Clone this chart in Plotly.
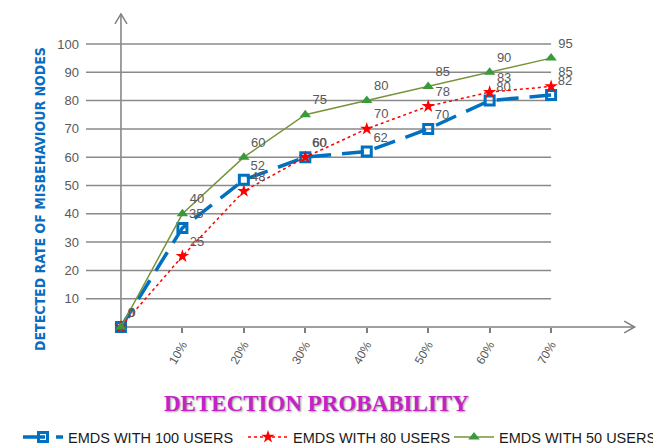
import plotly.graph_objects as go

x_vals = [0, 10, 20, 30, 40, 50, 60, 70]
x_tick_vals = [10, 20, 30, 40, 50, 60, 70]
x_tick_text = ["10%", "20%", "30%", "40%", "50%", "60%", "70%"]
y_tick_vals = [10, 20, 30, 40, 50, 60, 70, 80, 90, 100]

users_100 = [0, 35, 52, 60, 62, 70, 80, 82]
users_80 = [0, 25, 48, 60, 70, 78, 83, 85]
users_50 = [0, 40, 60, 75, 80, 85, 90, 95]

names = ["EMDS WITH 100 USERS", "EMDS WITH 80 USERS", "EMDS WITH 50 USERS"]

# page body has an 8px margin; figure is sized so it fills the 661x448 window
W, H = 653, 440
ML, MR, MT, MB = 78, 21, 2, 121
PW, PH = W - ML - MR, H - MT - MB

X_LEFT, X_RIGHT = -5.69, 84.47
Y_BOT, Y_TOP = 0, 112

def px(v):
    return (v - X_LEFT) / (X_RIGHT - X_LEFT)

def py(v):
    return (v - Y_BOT) / (Y_TOP - Y_BOT)

lbl_font = dict(family="Liberation Sans, Arial, sans-serif", size=13, color="#595959")

fig = go.Figure()
fig.add_trace(go.Scatter(
    x=x_vals, y=users_100, name=names[0], mode="lines+markers+text", legend="legend",
    text=[str(v) for v in users_100], textposition="top right", textfont=lbl_font,
    line=dict(color="#0070c0", width=3.5, dash="22px,11px"),
    marker=dict(symbol="square-open", size=9, color="#0070c0", line=dict(width=3, color="#0070c0")),
    cliponaxis=False))
fig.add_trace(go.Scatter(
    x=x_vals, y=users_80, name=names[1], mode="lines+markers+text", legend="legend2",
    text=[str(v) for v in users_80], textposition="top right", textfont=lbl_font,
    line=dict(color="#ff0000", width=1.5, dash="3px,3px"),
    marker=dict(symbol="star", size=10, color="#ff0000"),
    cliponaxis=False))
fig.add_trace(go.Scatter(
    x=x_vals, y=users_50, name=names[2], mode="lines+markers+text", legend="legend3",
    text=[str(v) for v in users_50], textposition="top right", textfont=lbl_font,
    line=dict(color="#77933c", width=1.5),
    marker=dict(symbol="triangle-up", size=10, color="#3a9a3a"),
    cliponaxis=False))

shapes = []
for v in y_tick_vals:
    shapes.append(dict(type="line", xref="x", yref="y", x0=X_LEFT, x1=70, y0=v, y1=v,
                       line=dict(color="#8a8a8a", width=1.5), layer="below"))
axis_line = dict(color="#7f7f7f", width=1.5)
# y axis with open arrow head
shapes.append(dict(type="line", xref="paper", yref="paper", x0=px(0), x1=px(0), y0=py(0), y1=py(110.6),
                   line=axis_line, layer="below"))
shapes.append(dict(type="path", xref="paper", yref="paper",
                   path=f"M {px(-0.98)} {py(107.1)} L {px(0)} {py(110.6)} L {px(0.98)} {py(107.1)}",
                   line=axis_line, layer="below"))
# x axis with open arrow head
shapes.append(dict(type="line", xref="paper", yref="paper", x0=px(0), x1=px(83.6), y0=py(0), y1=py(0),
                   line=axis_line, layer="below"))
shapes.append(dict(type="path", xref="paper", yref="paper",
                   path=f"M {px(81.9)} {py(2.1)} L {px(83.6)} {py(0)} L {px(81.9)} {py(-2.1)}",
                   line=axis_line, layer="below"))

leg_font = dict(family="Liberation Sans, Arial, sans-serif", size=14.5, color="#1a1a1a")
def leg(xpx):
    return dict(orientation="h", xref="container", yref="container", x=xpx / W, y=1 - 429 / H,
                xanchor="left", yanchor="middle", itemwidth=40, font=leg_font,
                bgcolor="rgba(0,0,0,0)")

fig.update_layout(
    width=W, height=H,
    margin=dict(l=ML, r=MR, t=MT, b=MB, autoexpand=False),
    plot_bgcolor="white", paper_bgcolor="white",
    shapes=shapes,
    showlegend=True,
    legend=leg(10), legend2=leg(235), legend3=leg(441),
    xaxis=dict(range=[X_LEFT, X_RIGHT], showgrid=False, zeroline=False, showline=False,
               automargin=False,
               tickvals=x_tick_vals, ticktext=x_tick_text, tickangle=-60,
               ticks="outside", ticklen=5, tickcolor="#7f7f7f", tickwidth=1.5,
               tickfont=dict(family="Liberation Sans, Arial, sans-serif", size=12, color="#595959")),
    yaxis=dict(range=[Y_BOT, Y_TOP], showgrid=False, zeroline=False, showline=False,
               automargin=False,
               tickvals=y_tick_vals, ticks="", ticklabelstandoff=6,
               tickfont=dict(family="Liberation Sans, Arial, sans-serif", size=13, color="#595959")),
    annotations=[
        dict(text="<b>DETECTED RATE OF MISBEHAVIOUR NODES</b>", xref="paper", yref="paper",
             x=(32 - ML) / PW, y=(MT + PH - 191) / PH, xanchor="center", yanchor="middle",
             showarrow=False, textangle=-90,
             font=dict(family="DejaVu Sans Condensed, Liberation Sans, sans-serif", size=14,
                       color="#0a6cc2")),
        dict(text="<b>DETECTION PROBABILITY</b>", xref="paper", yref="paper",
             x=(308 - ML) / PW, y=(MT + PH - 395) / PH, xanchor="center", yanchor="middle",
             showarrow=False,
             font=dict(family="Liberation Serif, Times New Roman, serif", size=23, color="#c322c8",
                       shadow="1px 1px 2px #999999")),
    ],
)

fig.write_html("out.html")
